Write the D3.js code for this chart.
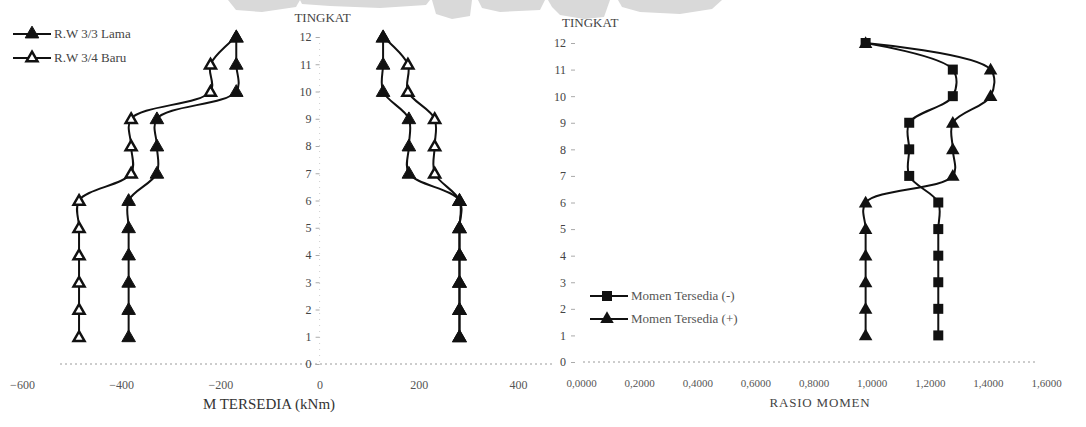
<!DOCTYPE html>
<html><head><meta charset="utf-8">
<script src="https://cdn.jsdelivr.net/npm/d3@7"></script>
<style>body{margin:0;background:#fff}</style>
</head><body>
<svg id="c" width="1086" height="427"></svg>
<script>
// ---- data ----
const levels = [1,2,3,4,5,6,7,8,9,10,11,12];
const lamaNeg = [-385,-385,-385,-385,-385,-385,-328,-328,-328,-168,-168,-168];
const baruNeg = [-485,-485,-485,-485,-485,-485,-380,-380,-380,-220,-220,-168];
const lamaPos = [282,282,282,282,282,282,180,180,180,128,128,128];
const baruPos = [282,282,282,282,282,282,232,232,232,178,178,128];
const ratioNeg = [1.25,1.25,1.25,1.25,1.25,1.25,1.15,1.15,1.15,1.30,1.30,1.00];
const ratioPos = [1.00,1.00,1.00,1.00,1.00,1.00,1.30,1.30,1.30,1.43,1.43,1.00];
const yTicks = [0,1,2,3,4,5,6,7,8,9,10,11,12];
const xTicksL = [-600,-400,-200,0,200,400];
const xTicksR = [0,0.2,0.4,0.6,0.8,1.0,1.2,1.4,1.6];
const xTickLabelsR = ["0,0000","0,2000","0,4000","0,6000","0,8000","1,0000","1,2000","1,4000","1,6000"];
const legendL = ["R.W 3/3 Lama","R.W 3/4 Baru"];
const legendR = ["Momen Tersedia (-)","Momen Tersedia (+)"];

const svg = d3.select("#c");
const serif = "'Liberation Serif','DejaVu Serif',serif";

// watermark remnants at top (scan artifact)
const wm = svg.append("g").attr("fill","#d9d9d9");
wm.append("path").attr("d","M228,0 L300,0 L296,7 L262,12 L236,10 Z");
wm.append("path").attr("d","M300,0 L430,0 L426,5 L380,8 L330,6 L302,4 Z");
wm.append("path").attr("d","M432,0 L472,0 L470,16 L452,19 L436,14 Z");
wm.append("path").attr("d","M478,0 L545,0 L540,10 L500,12 L482,8 Z");
wm.append("path").attr("d","M548,0 L610,0 L604,17 L584,19 L560,15 L552,7 Z");
wm.append("path").attr("d","M618,0 L722,0 L712,9 L680,14 L640,12 L622,7 Z");

// ---- scales ----
const xL = d3.scaleLinear().domain([-600,400]).range([22,518]);
const yL = d3.scaleLinear().domain([0,12]).range([364,37]);
const xR = d3.scaleLinear().domain([0,1.6]).range([575,1040]);
const yR = d3.scaleLinear().domain([0,12]).range([362,43]);

const tri = d3.symbol().type(d3.symbolTriangle);
const sq = d3.symbol().type(d3.symbolSquare);

function styleAxis(g, size, color){
  g.attr("color",color);
  g.selectAll("text").attr("font-family",serif).attr("font-size",size).attr("fill",color);
}

// ---- left panel axes ----
svg.append("line").attr("x1",60).attr("x2",552).attr("y1",yL(0)).attr("y2",yL(0))
  .attr("stroke","#9a9a9a").attr("stroke-width",1).attr("stroke-dasharray","2,3");
svg.append("line").attr("x1",xL(0)).attr("x2",xL(0)).attr("y1",yL(12)).attr("y2",yL(0))
  .attr("stroke","#d0d0d0").attr("stroke-width",1).attr("stroke-dasharray","1,5");
const gxL = svg.append("g").attr("transform","translate(0,380)")
  .call(d3.axisBottom(xL).tickValues(xTicksL).tickSize(0).tickPadding(0).tickFormat(d3.format("d")));
gxL.select(".domain").remove();
styleAxis(gxL, 12, "#555");
const gyL = svg.append("g").attr("transform",`translate(${xL(0)},0)`)
  .call(d3.axisLeft(yL).tickValues(yTicks).tickSize(4).tickPadding(4));
gyL.select(".domain").remove();
styleAxis(gyL, 12, "#444");
gyL.selectAll("line").attr("stroke","#aaa");
svg.append("text").attr("x",xL(0)+3).attr("y",22).attr("text-anchor","middle")
  .attr("font-family",serif).attr("font-size",13).attr("fill","#444").text("TINGKAT");
svg.append("text").attr("x",269).attr("y",409).attr("text-anchor","middle")
  .attr("font-family",serif).attr("font-size",15).attr("fill","#333").text("M TERSEDIA (kNm)");

// ---- left panel series ----
const lineL = d3.line().x(d=>xL(d[0])).y(d=>yL(d[1])).curve(d3.curveCatmullRom);
function seriesL(vals, filled){
  const pts = vals.map((v,i)=>[v,levels[i]]);
  svg.append("path").attr("d",lineL(pts)).attr("fill","none").attr("stroke","#111").attr("stroke-width",2);
  svg.append("g").selectAll("path").data(pts).join("path")
    .attr("transform",d=>`translate(${xL(d[0])},${yL(d[1])+1})`)
    .attr("d", filled ? tri.size(80)() : tri.size(52)())
    .attr("fill", filled ? "#111" : "#fff").attr("stroke","#111").attr("stroke-width", filled?1:2.5);
}
seriesL(baruNeg,false);
seriesL(baruPos,false);
seriesL(lamaNeg,true);
seriesL(lamaPos,true);

// left legend
[[34,true],[58,false]].forEach(([y,filled],i)=>{
  svg.append("line").attr("x1",13).attr("x2",51).attr("y1",y).attr("y2",y).attr("stroke","#111").attr("stroke-width",2);
  svg.append("path").attr("transform",`translate(32,${y})`)
    .attr("d", filled ? tri.size(80)() : tri.size(52)())
    .attr("fill", filled ? "#111" : "#fff").attr("stroke","#111").attr("stroke-width", filled?1:2.5);
  svg.append("text").attr("x",54).attr("y",y+4).attr("font-family",serif).attr("font-size",13)
    .attr("fill","#444").text(legendL[i]);
});

// ---- right panel axes ----
svg.append("line").attr("x1",583).attr("x2",1036).attr("y1",yR(0)).attr("y2",yR(0))
  .attr("stroke","#9a9a9a").attr("stroke-width",1).attr("stroke-dasharray","2,3");
const gxR = svg.append("g").attr("transform","translate(6,379)")
  .call(d3.axisBottom(xR).tickValues(xTicksR).tickSize(0).tickPadding(0).tickFormat((d,i)=>xTickLabelsR[i]));
gxR.select(".domain").remove();
styleAxis(gxR, 11, "#555");
const gyR = svg.append("g").attr("transform",`translate(${xR(0)},0)`)
  .call(d3.axisLeft(yR).tickValues(yTicks).tickSize(4).tickPadding(5));
gyR.select(".domain").remove();
styleAxis(gyR, 12, "#444");
gyR.selectAll("line").attr("stroke","#aaa");
svg.append("text").attr("x",562).attr("y",27)
  .attr("font-family",serif).attr("font-size",13).attr("fill","#444").text("TINGKAT");
svg.append("text").attr("x",820).attr("y",407).attr("text-anchor","middle")
  .attr("font-family",serif).attr("font-size",13).attr("letter-spacing",0.8).attr("fill","#444").text("RASIO MOMEN");

// ---- right panel series ----
const lineR = d3.line().x(d=>xR(d[0])).y(d=>yR(d[1])).curve(d3.curveCatmullRom);
function seriesR(vals, shape){
  const pts = vals.map((v,i)=>[v,levels[i]]);
  svg.append("path").attr("d",lineR(pts)).attr("fill","none").attr("stroke","#111").attr("stroke-width",2);
  svg.append("g").selectAll("path").data(pts).join("path")
    .attr("transform",d=>`translate(${xR(d[0])},${yR(d[1])+(shape==="tri"?1:0)})`)
    .attr("d", shape==="tri" ? tri.size(80)() : sq.size(100)())
    .attr("fill","#111");
}
seriesR(ratioPos,"tri");
seriesR(ratioNeg,"sq");

// right legend
[[296,"sq"],[319,"tri"]].forEach(([y,shape],i)=>{
  svg.append("line").attr("x1",590).attr("x2",628).attr("y1",y).attr("y2",y).attr("stroke","#111").attr("stroke-width",2);
  svg.append("path").attr("transform",`translate(607,${y})`)
    .attr("d", shape==="tri" ? tri.size(80)() : sq.size(100)()).attr("fill","#111");
  svg.append("text").attr("x",631).attr("y",y+4).attr("font-family",serif).attr("font-size",13)
    .attr("fill","#555").text(legendR[i]);
});
</script>
</body></html>
